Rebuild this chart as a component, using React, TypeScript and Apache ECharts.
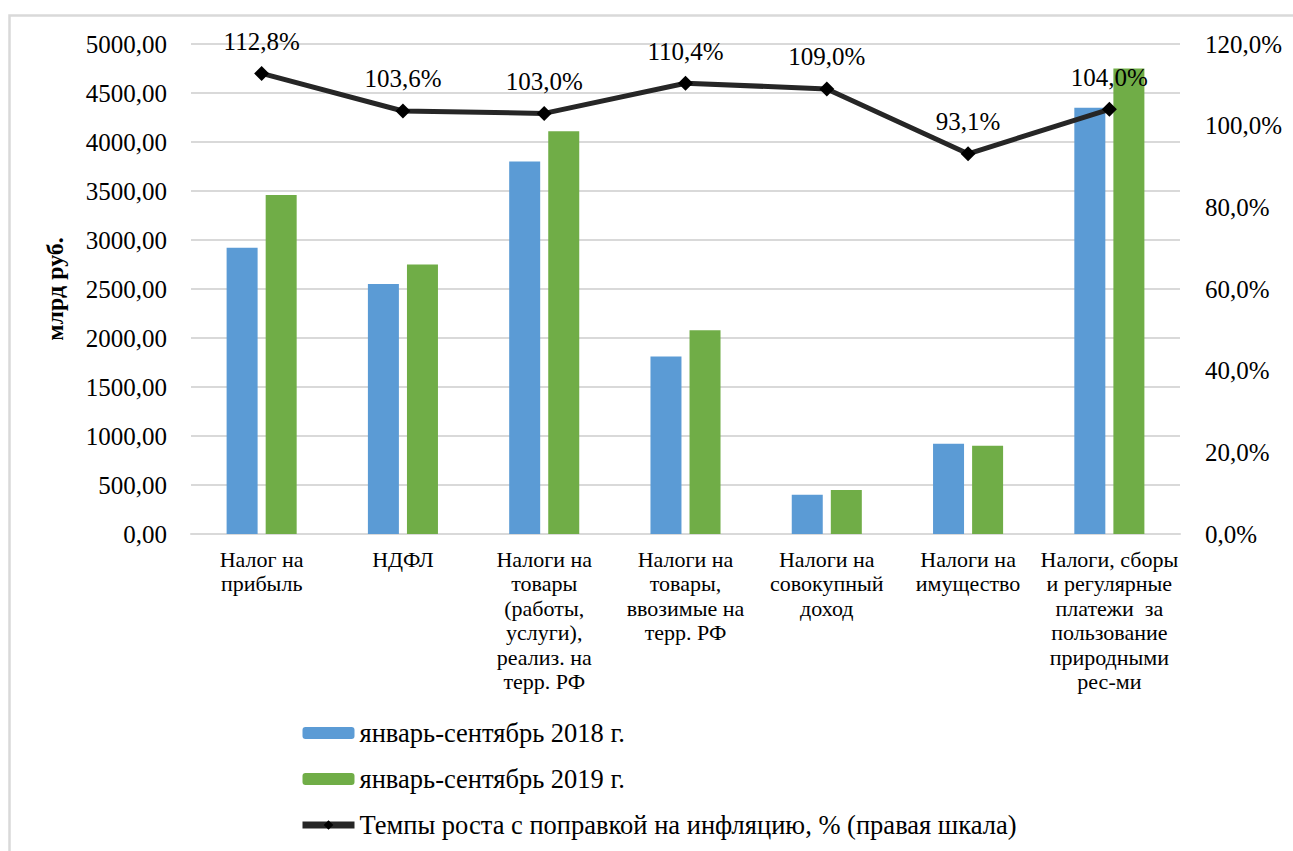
import React, { useEffect, useRef } from "react";
import * as echarts from "echarts";

const categories = [
  "Налог на\nприбыль",
  "НДФЛ",
  "Налоги на\nтовары\n(работы,\nуслуги),\nреализ. на\nтерр. РФ",
  "Налоги на\nтовары,\nввозимые на\nтерр. РФ",
  "Налоги на\nсовокупный\nдоход",
  "Налоги на\nимущество",
  "Налоги, сборы\nи регулярные\nплатежи  за\nпользование\nприродными\nрес-ми",
];
const values2018 = [2920, 2550, 3800, 1810, 400, 920, 4350];
const values2019 = [3460, 2750, 4110, 2080, 450, 900, 4750];
const growthRates = [112.8, 103.6, 103.0, 110.4, 109.0, 93.1, 104.0];

const seriesNames = [
  "январь-сентябрь 2018 г.",
  "январь-сентябрь 2019 г.",
  "Темпы роста с поправкой на инфляцию, % (правая шкала)",
];

const FONT = "Liberation Serif, Times New Roman, serif";

export default function App() {
  const ref = useRef<HTMLDivElement>(null);
  useEffect(() => {
    document.body.style.margin = "0";
    const chart = echarts.init(ref.current!, null, { renderer: "svg" });
    chart.setOption({
      animation: false,
      backgroundColor: "#ffffff",
      graphic: [
        {
          type: "rect",
          shape: { x: 9.5, y: 15.5, width: 1400, height: 1000 },
          style: { fill: "none", stroke: "#d9d9d9", lineWidth: 2.5 },
          silent: true,
        },
      ],
      grid: { left: 191, right: 113, top: 44, bottom: 317 },
      legend: {
        orient: "vertical",
        left: 299,
        top: 719.5,
        padding: 0,
        itemWidth: 52,
        itemHeight: 12,
        itemGap: 19,
        data: [
          { name: seriesNames[0] },
          { name: seriesNames[1] },
          { name: seriesNames[2], lineStyle: { width: 7, color: "#262626" } },
        ],
        textStyle: { fontFamily: FONT, fontSize: 26.5, color: "#000", lineHeight: 27 },
      },
      xAxis: {
        type: "category",
        data: categories,
        axisLine: { lineStyle: { color: "#d9d9d9", width: 2 } },
        axisTick: { show: false },
        axisLabel: {
          interval: 0,
          fontFamily: FONT,
          fontSize: 22,
          lineHeight: 24.5,
          color: "#000",
          margin: 13,
        },
      },
      yAxis: [
        {
          type: "value",
          min: 0,
          max: 5000,
          interval: 500,
          name: "млрд руб.",
          nameLocation: "middle",
          nameGap: 124,
          nameRotate: 90,
          nameTextStyle: { fontFamily: FONT, fontSize: 24, fontWeight: "bold", color: "#000" },
          axisLine: { show: false },
          axisTick: { show: false },
          splitLine: { lineStyle: { color: "#d9d9d9", width: 2 } },
          axisLabel: {
            fontFamily: FONT,
            fontSize: 25,
            color: "#000",
            margin: 24,
            formatter: (v: number) => v.toFixed(2).replace(".", ","),
          },
        },
        {
          type: "value",
          min: 0,
          max: 120,
          interval: 20,
          position: "right",
          axisLine: { show: false },
          axisTick: { show: false },
          splitLine: { show: false },
          axisLabel: {
            fontFamily: FONT,
            fontSize: 25,
            color: "#000",
            margin: 25,
            formatter: (v: number) => v.toFixed(1).replace(".", ",") + "%",
          },
        },
      ],
      series: [
        {
          name: seriesNames[0],
          type: "bar",
          data: values2018,
          barWidth: 31,
          barGap: "26%",
          itemStyle: { color: "#5b9bd5" },
        },
        {
          name: seriesNames[1],
          type: "bar",
          data: values2019,
          barWidth: 31,
          barGap: "26%",
          itemStyle: { color: "#70ad47" },
        },
        {
          name: seriesNames[2],
          type: "line",
          yAxisIndex: 1,
          data: growthRates,
          symbol: "diamond",
          symbolSize: 15,
          lineStyle: { color: "#262626", width: 5 },
          itemStyle: { color: "#000" },
          z: 5,
          label: {
            show: true,
            position: "top",
            distance: 12,
            fontFamily: FONT,
            fontSize: 25,
            color: "#000",
            formatter: (p: any) => p.value.toFixed(1).replace(".", ",") + "%",
          },
        },
      ],
    });
    return () => chart.dispose();
  }, []);
  return <div ref={ref} style={{ width: 1293, height: 851 }} />;
}
